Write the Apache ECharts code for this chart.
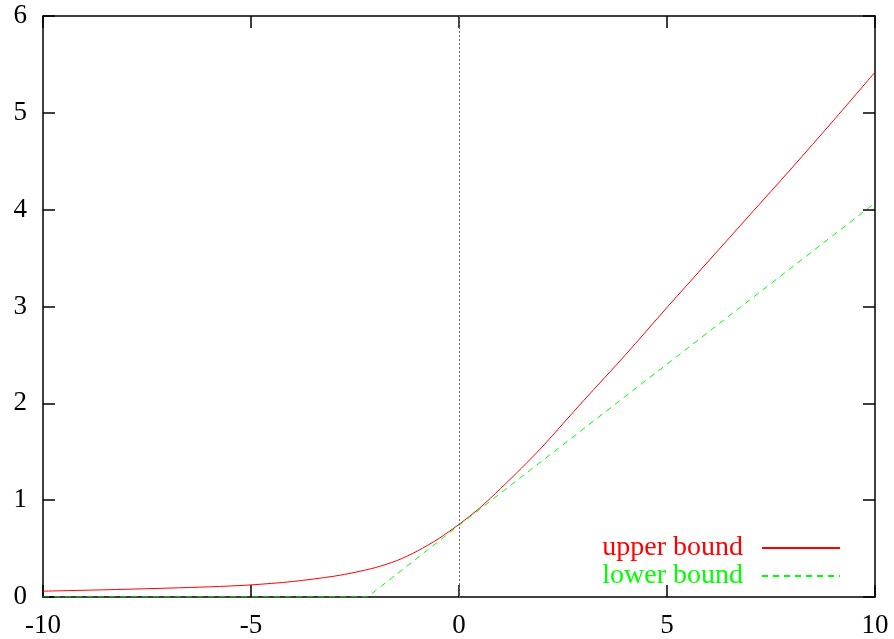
<!DOCTYPE html>
<html>
<head>
<meta charset="utf-8">
<script src="https://cdn.jsdelivr.net/npm/echarts@6/dist/echarts.min.js"></script>
<style>
	html, body { margin: 0; padding: 0; background: #fff; }
	#chart { width: 894px; height: 639px; }
</style>
</head>
<body>
<div id="chart"></div>
<script>
	// values
	var upperX = [-10, -8, -6, -5, -4, -3, -2.5, -2, -1.5, -1, -0.5, 0, 0.5, 1, 1.5, 2, 2.5, 3, 4, 5, 6, 7, 8, 9, 10];
	var upperY = [0.06, 0.08, 0.105, 0.125, 0.16, 0.215, 0.255, 0.305, 0.375, 0.475, 0.60, 0.75, 0.92, 1.12, 1.33, 1.55, 1.79, 2.03, 2.50, 2.99, 3.47, 3.95, 4.43, 4.92, 5.42];
	var lowerX = [-10, -2.2, 0, 10];
	var lowerY = [0, 0, 0.74, 4.07];
	var xTicks = [-10, -5, 0, 5, 10];
	var yTicks = [0, 1, 2, 3, 4, 5, 6];

	function pairs(xs, ys) {
		return xs.map(function (x, i) { return [x, ys[i]]; });
	}

	var font = '"Liberation Serif", "DejaVu Serif", serif';
	var chart = echarts.init(document.getElementById('chart'));

	var frameAxis = {
		type: 'value',
		axisLine: { show: true, onZero: false, lineStyle: { color: '#000', width: 1.5 } },
		axisTick: { show: true, inside: true, length: 12, lineStyle: { color: '#000', width: 1.5 } },
		splitLine: { show: false }
	};

	chart.setOption({
		animation: false,
		backgroundColor: '#fff',
		grid: { left: 43, right: 19, top: 16, bottom: 40 },
		xAxis: [
			Object.assign({}, frameAxis, {
				position: 'bottom', min: xTicks[0], max: xTicks[xTicks.length - 1], interval: 5,
				axisLabel: { color: '#000', fontSize: 27, fontFamily: font, margin: 15 }
			}),
			Object.assign({}, frameAxis, {
				position: 'top', min: xTicks[0], max: xTicks[xTicks.length - 1], interval: 5,
				axisLabel: { show: false }
			})
		],
		yAxis: [
			Object.assign({}, frameAxis, {
				position: 'left', min: yTicks[0], max: yTicks[yTicks.length - 1], interval: 1,
				axisLabel: { color: '#000', fontSize: 27, fontFamily: font, margin: 16 }
			}),
			Object.assign({}, frameAxis, {
				position: 'right', min: yTicks[0], max: yTicks[yTicks.length - 1], interval: 1,
				axisLabel: { show: false }
			})
		],
		legend: {
			orient: 'vertical',
			right: 48,
			top: 529,
			align: 'right',
			itemWidth: 78,
			itemHeight: 14,
			itemGap: 0,
			itemStyle: { color: 'transparent', borderWidth: 0, opacity: 0 },
			textStyle: { fontSize: 28, fontFamily: font, padding: [0, 14, 0, 0] },
			data: [
				{ name: 'upper bound', textStyle: { color: '#ff0000' } },
				{ name: 'lower bound', textStyle: { color: '#00ff00' } }
			]
		},
		series: [
			{
				name: 'upper bound',
				type: 'line',
				data: pairs(upperX, upperY),
				smooth: 0.3,
				showSymbol: false,
				symbol: 'none',
				color: '#ff0000',
				lineStyle: { color: '#ff0000', width: 1 },
				markLine: {
					silent: true,
					symbol: 'none',
					label: { show: false },
					lineStyle: { color: '#666', width: 1, type: [2, 2] },
					data: [{ xAxis: 0 }]
				},
				z: 3
			},
			{
				name: 'lower bound',
				type: 'line',
				data: pairs(lowerX, lowerY),
				showSymbol: false,
				symbol: 'none',
				color: '#00ff00',
				lineStyle: { color: '#00ff00', width: 1, type: [6, 5] },
				z: 4
			}
		]
	});
</script>
</body>
</html>
